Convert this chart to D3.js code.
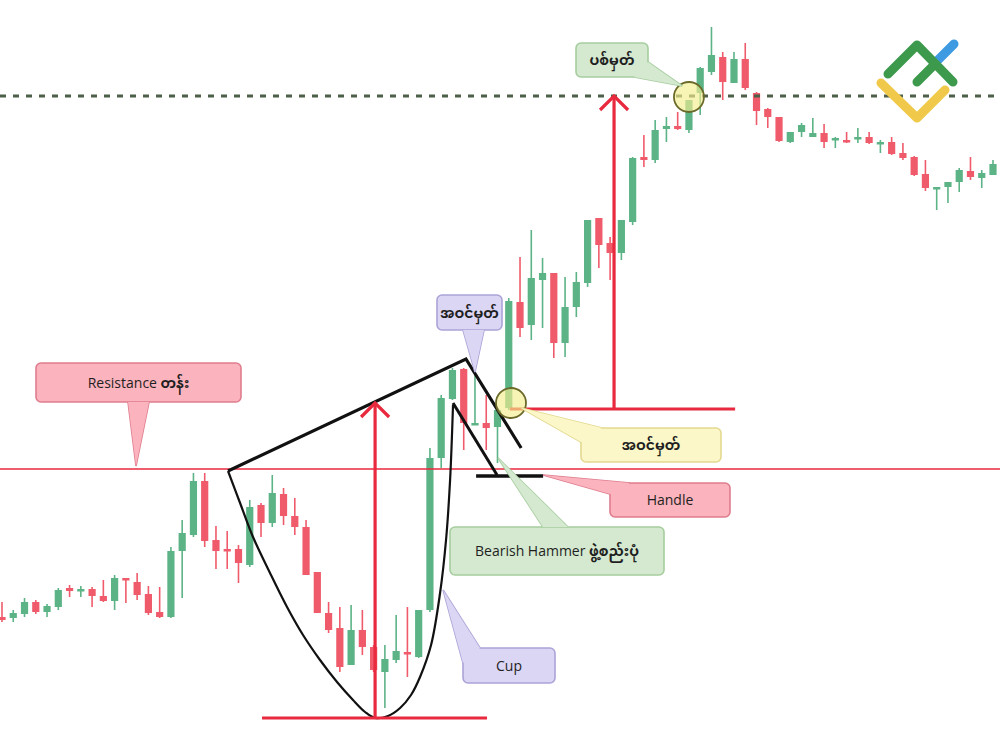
<!DOCTYPE html>
<html>
<head>
<meta charset="utf-8">
<script src="https://cdn.jsdelivr.net/npm/d3@7/dist/d3.min.js"></script>
<style>
html,body{margin:0;padding:0;background:#fff;}
svg{display:block;}
</style>
</head>
<body>
<svg id="chart" width="1000" height="739"></svg>
<script>
// ---- Data (price units) ----
const opens  = [123,122,126,138,128,133,152,149,151,144,139,162,158,146,128,123,189,205,259,200,191,191,175,235,217,246,224,213,168,127,112,75,110,93,68,80,88,83,130,282,341,371,315,317,313,332,438,415,460,467,397,433,457,522,497,487,518,583,580,611,614,610,647,668,683,657,681,647,631,623,598,608,603,607,600,600,601,603,596,598,587,583,566,551,553,558,569,562,565];
const highs  = [138,130,142,140,136,152,155,154,153,160,165,162,167,154,153,193,220,267,267,214,209,195,240,237,265,252,242,220,168,138,133,135,130,95,95,125,133,130,292,345,372,372,365,345,332,442,483,510,482,467,463,468,520,522,503,520,583,605,620,623,628,640,673,713,688,688,697,648,632,623,608,617,622,616,603,608,612,608,600,603,597,584,580,553,558,572,583,570,580];
const lows   = [118,118,123,126,123,130,143,143,133,138,130,137,140,125,122,122,142,203,193,171,171,157,173,203,213,215,205,165,127,107,68,75,85,68,32,77,63,82,128,272,340,290,315,290,277,330,403,400,412,382,383,423,453,472,460,480,515,573,577,598,610,607,625,665,640,657,650,615,612,598,597,603,603,592,592,597,597,596,587,585,580,564,549,530,537,548,560,552,565];
const closes = [120,127,138,128,134,150,149,151,144,139,162,160,145,127,123,189,207,259,199,189,189,177,233,217,247,224,213,165,127,110,73,110,93,70,81,89,86,130,282,342,370,317,317,312,330,439,412,462,467,397,433,458,520,495,487,520,582,580,610,614,611,640,672,685,658,681,652,629,623,599,608,615,607,598,602,598,603,597,598,586,582,565,552,553,558,570,563,567,576];

// key levels
const resistanceLevel = 271;
const targetLevel = 644;

// pattern geometry in data units [candle index, price]
const cupRim      = [[20.07,269],[41.2,381],[46.1,292]];
const handleLine  = [[40.05,337],[43.96,265]];
const handleBase  = [[42.1,264],[48.05,264]];
const cupCurve    = [[20.07,269],[21.14,237],[22.29,203],[23.8,167],[25.31,133],[26.73,105],[28.24,80],[29.75,58],[31.17,40],[32.24,28],[33.13,22],[34.28,24],[35.35,32],[36.32,45],[37.12,63],[38.1,95],[38.9,147],[39.43,200],[39.79,260],[40.05,335]];
const cupBottom   = [[23.09,22],[43.07,22]];
const depthArrow  = [[33.13,22],[33.13,338]];
const breakLine   = [[45.1,331],[65.1,331]];
const targetArrow = [[54.35,331],[54.35,645]];
const circlesPts  = [[45.2,337],[61.0,643]];

const labels = ["Resistance တန်း","အဝင်မှတ်","အဝင်မှတ်","Handle","Bearish Hammer ဖွဲ့စည်းပုံ","Cup","ပစ်မှတ်"];
const labelTips = [[11.9,274],[42.0,368],[46.1,332],[48.05,265],[44.05,282],[39.17,150],[60.4,654]];

// ---- Drawing ----
const W = 1000, H = 739;
const svg = d3.select("#chart");
const x = d3.scaleLinear().domain([0, opens.length - 1]).range([2, 993]);
const y = d3.scaleLinear().domain([0, 740]).range([740, 0]);

const GREEN = "#5cb386", RED = "#ef5b6b", LINE_RED = "#e8293e";
const candles = opens.map((o,i)=>({i, o, h:highs[i], l:lows[i], c:closes[i]}));

const cg = svg.append("g");
cg.selectAll("line.wick").data(candles).join("line")
  .attr("x1", d=>x(d.i)).attr("x2", d=>x(d.i))
  .attr("y1", d=>y(d.h)).attr("y2", d=>y(d.l))
  .attr("stroke", d=>d.c>=d.o?GREEN:RED).attr("stroke-width",1.6);
cg.selectAll("rect.body").data(candles).join("rect")
  .attr("x", d=>x(d.i)-3.6).attr("width",7.2)
  .attr("y", d=>y(Math.max(d.o,d.c)))
  .attr("height", d=>Math.max(2.5, Math.abs(y(d.o)-y(d.c))))
  .attr("fill", d=>d.c>=d.o?GREEN:RED);

// resistance line
svg.append("line").attr("x1",0).attr("x2",W)
  .attr("y1",y(resistanceLevel)).attr("y2",y(resistanceLevel))
  .attr("stroke",LINE_RED).attr("stroke-width",1.6);
// target dotted line
svg.append("line").attr("x1",0).attr("x2",W)
  .attr("y1",y(targetLevel)).attr("y2",y(targetLevel))
  .attr("stroke","#4d5f49").attr("stroke-width",3).attr("stroke-dasharray","6,7");

const line = d3.line().x(d=>x(d[0])).y(d=>y(d[1]));
const ag = svg.append("g");
ag.append("path").attr("d", line(cupRim)).attr("fill","none").attr("stroke","#111").attr("stroke-width",3.2).attr("stroke-linejoin","miter");
ag.append("path").attr("d", line(handleLine)).attr("fill","none").attr("stroke","#111").attr("stroke-width",3);
ag.append("path").attr("d", line(handleBase)).attr("fill","none").attr("stroke","#111").attr("stroke-width",3.6);
ag.append("path").attr("d", d3.line().x(d=>x(d[0])).y(d=>y(d[1])).curve(d3.curveCatmullRom.alpha(0.5))(cupCurve))
  .attr("fill","none").attr("stroke","#111").attr("stroke-width",2.2);

function arrow(pts){
  const x0 = x(pts[0][0]), yb = y(pts[0][1]), yt = y(pts[1][1]);
  ag.append("line").attr("x1",x0).attr("x2",x0).attr("y1",yb).attr("y2",yt+1)
    .attr("stroke",LINE_RED).attr("stroke-width",3.2);
  ag.append("path").attr("d",`M${x0-14},${yt+15}L${x0},${yt+1}L${x0+14},${yt+15}`)
    .attr("fill","none").attr("stroke",LINE_RED).attr("stroke-width",3.2).attr("stroke-linejoin","miter");
}
ag.append("path").attr("d", line(cupBottom)).attr("stroke",LINE_RED).attr("stroke-width",3.2);
arrow(depthArrow);
ag.append("path").attr("d", line(breakLine)).attr("stroke",LINE_RED).attr("stroke-width",3.2);
arrow(targetArrow);

// circles
ag.selectAll("circle").data(circlesPts).join("circle")
  .attr("cx",d=>x(d[0])).attr("cy",d=>y(d[1])).attr("r",15)
  .attr("fill","#f3ee8e").attr("fill-opacity",0.65)
  .attr("stroke","#6b6a2a").attr("stroke-width",1.8);

// callouts: box layout in pixels, tip from data
const styles = {
  pink:   {fill:"#fbb3bd", stroke:"#df7d8e"},
  purple: {fill:"#dad6f3", stroke:"#aba4d7"},
  yellow: {fill:"#fcf7c8", stroke:"#e3d98f"},
  green:  {fill:"#d4e9d0", stroke:"#a6cd9e"}
};
const boxes = [
  {x:36, y:363, w:205, h:39, st:"pink",   base:[[128,402],[149,402]]},
  {x:437,y:295, w:65,  h:35, st:"purple", base:[[463,330],[484,330]]},
  {x:581,y:428, w:140, h:34, st:"yellow", base:[[602,428],[581,442]]},
  {x:610,y:483, w:120, h:34, st:"pink",   base:[[630,483],[610,494]]},
  {x:450,y:527, w:214, h:48, st:"green",  base:[[543,527],[568,527]]},
  {x:463,y:648, w:92,  h:35, st:"purple", base:[[480,648],[463,663]]},
  {x:576,y:43,  w:72,  h:34, st:"green",  base:[[648,62],[634,77]]}
];
const lg = svg.append("g");
boxes.forEach((b,k)=>{
  const s = styles[b.st];
  const tip = [x(labelTips[k][0]), y(labelTips[k][1])];
  lg.append("rect").attr("x",b.x).attr("y",b.y).attr("width",b.w).attr("height",b.h)
    .attr("rx",5).attr("fill",s.fill).attr("stroke",s.stroke).attr("stroke-width",1.6);
  lg.append("path").attr("d",`M${b.base[0][0]},${b.base[0][1]}L${tip[0]},${tip[1]}L${b.base[1][0]},${b.base[1][1]}`)
    .attr("fill",s.fill).attr("stroke",s.stroke).attr("stroke-width",1.6).attr("stroke-linejoin","miter");
  lg.append("path").attr("d",`M${b.base[0][0]},${b.base[0][1]}L${tip[0]},${tip[1]}L${b.base[1][0]},${b.base[1][1]}Z`)
    .attr("fill",s.fill).attr("stroke","none");
  const txt = lg.append("text").attr("x",b.x+b.w/2).attr("y",b.y+b.h/2+5)
    .attr("text-anchor","middle")
    .attr("font-family","'Open Sans','Noto Sans Myanmar','Padauk','Noto Sans',sans-serif")
    .attr("font-size",14).attr("fill","#1f1f1f");
  const label = labels[k];
  const m = label.match(/^([A-Za-z ]*)(.*)$/);
  if (m[1]) txt.append("tspan").text(m[1]);
  if (m[2]) txt.append("tspan").attr("font-weight","bold").text(m[2]);
});

// logo (decoration)
const logo = svg.append("g").attr("fill","none").attr("stroke-linecap","round").attr("stroke-linejoin","round").attr("stroke-width",9);
logo.append("path").attr("d","M934,64L954,44").attr("stroke","#3e9be1");
logo.append("path").attr("d","M888,74L917,45L953,82").attr("stroke","#3d9a4d");
logo.append("path").attr("d","M917,82L935,64").attr("stroke","#3d9a4d");
logo.append("path").attr("d","M881,83L917,118L945,90").attr("stroke","#f0c94a");
</script>
</body>
</html>
